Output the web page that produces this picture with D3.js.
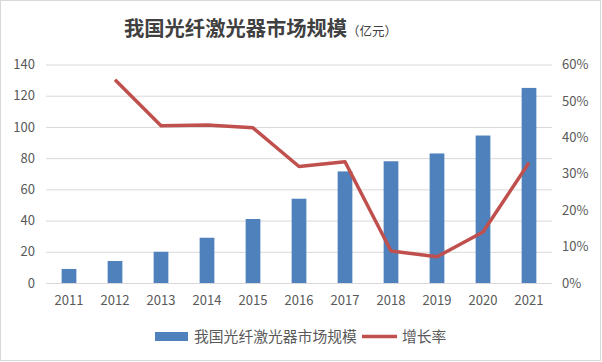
<!DOCTYPE html>
<html>
<head>
<meta charset="utf-8">
<script src="https://cdn.jsdelivr.net/npm/d3@7"></script>
<style>
body { margin: 0; background: #fff; }
text { font-family: "Noto Sans CJK SC", "DejaVu Sans", sans-serif; }
</style>
</head>
<body>
<div id="chart"></div>
<script>
// data
var years = ["2011","2012","2013","2014","2015","2016","2017","2018","2019","2020","2021"];
var marketSize = [9, 14.1, 20, 29, 41, 54, 71.5, 78, 83, 94.5, 125];
var growthRate = [null, 55.8, 43.2, 43.4, 42.6, 32.0, 33.3, 8.8, 7.2, 14.0, 33.0];
var leftTicks = [0, 20, 40, 60, 80, 100, 120, 140];
var rightTicks = [0, 10, 20, 30, 40, 50, 60];

var svgWidth = 602;
var svgHeight = 362;

var margin = { top: 64.5, right: 50, bottom: 79, left: 46 };
var width = svgWidth - margin.left - margin.right;
var height = svgHeight - margin.top - margin.bottom;

var svg = d3.select("#chart")
.append("svg")
.attr("width", svgWidth)
.attr("height", svgHeight);

// outer border
svg.append("rect")
.attr("x", 0.5).attr("y", 0.5)
.attr("width", svgWidth - 2).attr("height", svgHeight - 2)
.attr("fill", "#fff")
.attr("stroke", "#d9d9d9");

var chartGroup = svg.append("g")
.attr("transform", `translate(${margin.left},${margin.top})`);

var xScale = d3.scaleBand()
.domain(years)
.range([0, width])
.paddingInner(0.68)
.paddingOuter(0.34);

var yLeft = d3.scaleLinear().domain([0, 140]).range([height, 0]);
var yRight = d3.scaleLinear().domain([0, 60]).range([height, 0]);

// gridlines
chartGroup.append("g")
.selectAll("line")
.data(leftTicks)
.enter()
.append("line")
.attr("x1", 0)
.attr("x2", width)
.attr("y1", d => yLeft(d) + 0.5)
.attr("y2", d => yLeft(d) + 0.5)
.attr("stroke", "#d9d9d9")
.attr("stroke-width", 1);

// left axis
var leftAxis = d3.axisLeft(yLeft).tickValues(leftTicks).tickSize(0).tickPadding(11);
var gl = chartGroup.append("g").call(leftAxis);
gl.select(".domain").remove();
gl.selectAll("text").attr("fill", "#595959").attr("font-size", "13px");

// right axis
var rightAxis = d3.axisRight(yRight).tickValues(rightTicks).tickSize(0).tickPadding(10)
.tickFormat(d => d + "%");
var gr = chartGroup.append("g").attr("transform", `translate(${width},0)`).call(rightAxis);
gr.select(".domain").remove();
gr.selectAll("text").attr("fill", "#595959").attr("font-size", "13px");

// bottom axis
var bottomAxis = d3.axisBottom(xScale).tickSize(0).tickPadding(13);
var gb = chartGroup.append("g").attr("transform", `translate(0,${height})`).call(bottomAxis);
gb.select(".domain").remove();
gb.selectAll("text").attr("fill", "#595959").attr("font-size", "13px");

// bars
chartGroup.append("g")
.selectAll("rect")
.data(marketSize)
.enter()
.append("rect")
.attr("x", (d, i) => xScale(years[i]))
.attr("y", d => yLeft(d))
.attr("width", xScale.bandwidth())
.attr("height", d => height - yLeft(d))
.attr("fill", "#4F81BD");

// growth line
var lineData = years.map((y, i) => ({ year: y, v: growthRate[i] })).filter(d => d.v !== null);
var line = d3.line()
.x(d => xScale(d.year) + xScale.bandwidth() / 2)
.y(d => yRight(d.v));

chartGroup.append("path")
.datum(lineData)
.attr("d", line)
.attr("fill", "none")
.attr("stroke", "#C0504D")
.attr("stroke-width", 3.5)
.attr("stroke-linejoin", "round");

// title
var title = svg.append("text")
.attr("x", 124)
.attr("y", 36)
.attr("text-anchor", "start")
.attr("fill", "#404040");
title.append("tspan")
.attr("font-size", "20.3px")
.attr("font-weight", "bold")
.text("我国光纤激光器市场规模");
title.append("tspan")
.attr("font-size", "12.5px")
.text("（亿元）");

// legend
var legend = svg.append("g").attr("transform", "translate(155,336.5)");
legend.append("rect")
.attr("x", 0).attr("y", -4.5)
.attr("width", 33).attr("height", 9)
.attr("fill", "#4F81BD");
legend.append("text")
.attr("x", 39).attr("y", 5)
.attr("font-size", "14.8px")
.attr("fill", "#595959")
.text("我国光纤激光器市场规模");
legend.append("line")
.attr("x1", 207).attr("x2", 242)
.attr("y1", 0).attr("y2", 0)
.attr("stroke", "#C0504D")
.attr("stroke-width", 3.5);
legend.append("text")
.attr("x", 247).attr("y", 5)
.attr("font-size", "14.8px")
.attr("fill", "#595959")
.text("增长率");
</script>
</body>
</html>
